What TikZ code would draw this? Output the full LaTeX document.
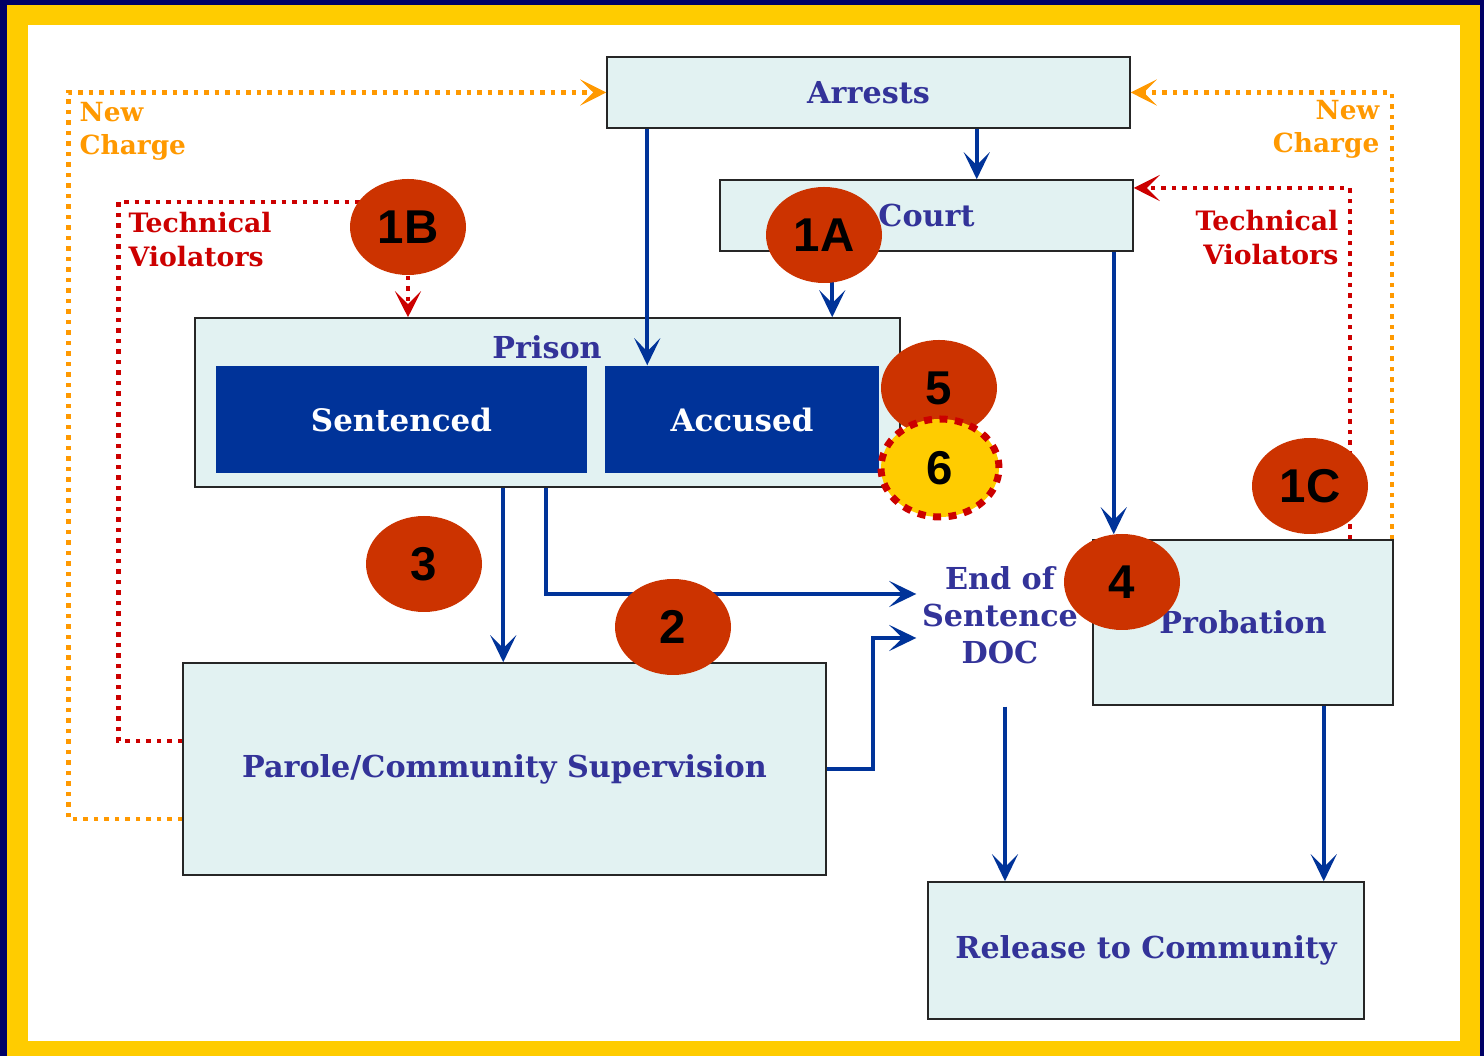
\documentclass[tikz,border=0pt]{standalone}
\usepackage{fontspec}
\setmainfont{DejaVu Serif}
\newfontfamily\badgefont{Liberation Sans}
\usetikzlibrary{arrows.meta, positioning, shapes.geometric, calc}
\definecolor{frameNavy}{RGB}{0, 0, 102}
\definecolor{frameGold}{RGB}{255, 204, 0}
\definecolor{boxFill}{RGB}{226, 242, 242}
\definecolor{flowBlue}{RGB}{0, 51, 153}
\definecolor{labelBlue}{RGB}{51, 51, 153}
\definecolor{ncOrange}{RGB}{255, 153, 0}
\definecolor{tvRed}{RGB}{204, 0, 0}
\definecolor{badgeRed}{RGB}{204, 51, 0}

\tikzset{
    stage/.style={draw=black!85, line width=0.15mm, fill=boxFill, text=labelBlue,
        font=\bfseries\fontsize{8.6}{10.5}\selectfont},
    lbl/.style={text=labelBlue, font=\bfseries\fontsize{8.6}{10.5}\selectfont},
    held/.style={fill=flowBlue, text=white, minimum height=10.7mm,
        font=\bfseries\fontsize{8.8}{10.5}\selectfont},
    flow/.style={draw=flowBlue, line width=0.4mm,
        -{Stealth[length=2.7mm, width=2.6mm, inset=1.3mm]}},
    newcharge/.style={draw=ncOrange, line width=0.45mm, dash pattern=on 0.45mm off 0.6mm,
        -{Stealth[length=2.6mm, width=2.6mm, inset=1.3mm]}},
    techviol/.style={draw=tvRed, line width=0.45mm, dash pattern=on 0.45mm off 0.6mm,
        -{Stealth[length=2.6mm, width=2.6mm, inset=1.3mm]}},
    badge/.style={ellipse, fill=badgeRed, minimum width=11.6mm, minimum height=9.6mm,
        inner sep=0pt, text=black, font=\badgefont\bfseries\fontsize{13.5}{14}\selectfont},
}

\begin{document}
\begin{tikzpicture}[x=0.1mm, y=-0.1mm]
    \useasboundingbox (0,0) rectangle (1484,1056);
    % frame
    \fill[frameNavy] (0,0) rectangle (1484,1056);
    \fill[frameGold] (7,5) rectangle (1480,1056);
    \fill[white] (28,25) rectangle (1460,1041);

    % boxes
    \node[stage, minimum width=52.3mm, minimum height=7.1mm] (arrests) at (868.5,92.5) {Arrests};
    \node[stage, minimum width=41.3mm, minimum height=7.1mm] (court) at (926.5,215.5) {Court};
    \node[stage, minimum width=70.5mm, minimum height=16.9mm] (prison) at (547.5,402.5) {};
    \node[lbl] (prisonTitle) at (547,347) {Prison};
    \node[held, minimum width=37.1mm] (sentenced) at (401.5,419.5) {Sentenced};
    \node[held, minimum width=27.4mm] (accused) at (742,419.5) {Accused};
    \node[stage, minimum width=64.3mm, minimum height=21.2mm] (parole) at (504.5,769) {Parole/Community Supervision};
    \node[lbl, align=center, inner sep=0pt, minimum width=16.6mm, minimum height=18.2mm] (eos) at (1000,615) {End of\\Sentence\\DOC};
    \node[stage, minimum width=30mm, minimum height=16.5mm] (probation) at (1243,622.5) {Probation};
    \node[stage, minimum width=43.6mm, minimum height=13.7mm] (release) at (1146,950.5) {Release to Community};

    % labels
    \node[text=ncOrange, font=\bfseries\fontsize{7.5}{9.4}\selectfont, align=left, anchor=north west,
        inner sep=0pt] (ncLeft) at (79,102) {New\\Charge};
    \node[text=ncOrange, font=\bfseries\fontsize{7.5}{9.4}\selectfont, align=right, anchor=north east,
        inner sep=0pt] (ncRight) at (1380,100) {New\\Charge};
    \node[text=tvRed, font=\bfseries\fontsize{7.6}{9.4}\selectfont, align=left, anchor=north west,
        inner sep=0pt] (tvLeft) at (128,212) {Technical\\Violators};
    \node[text=tvRed, font=\bfseries\fontsize{7.6}{9.4}\selectfont, align=right, anchor=north east,
        inner sep=0pt] (tvRight) at (1339,210) {Technical\\Violators};

    % main flows
    \draw[flow] ([xshift=4.1mm]arrests.south west) coordinate (a1) -- (a1 |- accused.north);
    \draw[flow] ([xshift=-15.4mm]arrests.south east) coordinate (a2) -- (a2 |- court.north);
    \draw[flow] ([xshift=11.3mm]court.south west) coordinate (c1) -- (c1 |- prison.north);
    \draw[flow] ([xshift=-2mm]court.south east) coordinate (c2) -- ([yshift=0.5mm]c2 |- probation.north);
    \draw[flow] ([xshift=30.9mm]prison.south west) coordinate (p1) -- (p1 |- parole.north);
    \draw[flow] ([xshift=35.2mm]prison.south west) |- ([yshift=2.1mm]eos.west);
    \draw[flow] (parole.east) -- ++(46,0) |- ([yshift=-2.3mm]eos.west);
    \draw[flow] ([xshift=0.5mm]eos.south) coordinate (e1) -- (e1 |- release.north);
    \draw[flow] ([xshift=-7mm]probation.south east) coordinate (r1) -- (r1 |- release.north);

    % return paths
    \coordinate (p1B) at (408,227);
    \draw[newcharge] ([yshift=-5mm]parole.west) -- ++(-114,0) |- (arrests.west);
    \draw[newcharge] ([xshift=-0.2mm]probation.north east) |- (arrests.east);
    \draw[techviol, -] ([yshift=2.8mm]parole.west) -- ++(-64,0) |- ([yshift=2.5mm]p1B);
    \draw[techviol] ([xshift=-4.4mm]probation.north east) |- ([yshift=2.75mm]court.east);

    % badges
    \node[badge] (b1B) at (p1B) {1B};
    \node[badge] (b1A) at (824,235) {1A};
    \node[badge] (b1C) at (1310,486) {1C};
    \node[badge] (b5) at (939,388) {5};
    \node[badge, fill=frameGold, draw=tvRed, line width=0.7mm, dash pattern=on 0.8mm off 0.75mm,
        minimum width=11.8mm, minimum height=9.8mm] (b6) at (940,468) {6};
    \node[badge] (b3) at (424,564) {3};
    \node[badge] (b2) at (673,627) {2};
    \node[badge] (b4) at (1122,582) {4};

    \draw[techviol] (b1B.south) -- (b1B.south |- prison.north);
\end{tikzpicture}
\end{document}
